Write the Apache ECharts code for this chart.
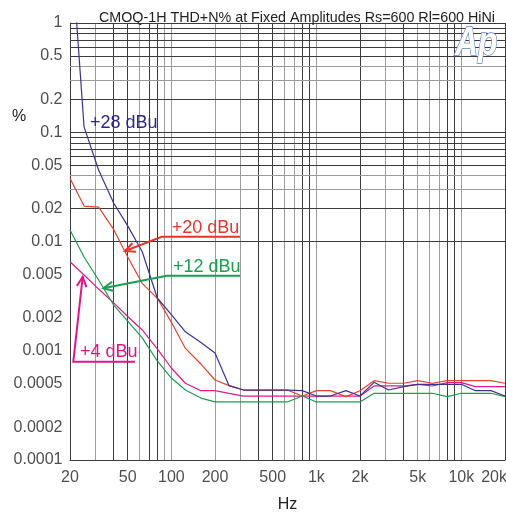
<!DOCTYPE html>
<html><head><meta charset="utf-8">
<script src="https://cdn.jsdelivr.net/npm/echarts@6/dist/echarts.min.js"></script>
<style>html,body{margin:0;padding:0;background:#fff}#c{width:506px;height:512px}</style>
</head><body><div id="c"></div>
<script>
const freqs = [20,25,31.5,40,50,63,80,100,125,160,200,250,315,400,500,630,800,1000,1250,1600,2000,2500,3150,4000,5000,6300,8000,10000,12500,16000,20000];
const thd28 = [7.3,0.112,0.0451,0.0225,0.0139,0.00806,0.00304,0.00214,0.00149,0.00119,0.000954,0.000479,0.000437,0.000437,0.000437,0.000437,0.000431,0.000385,0.000385,0.000431,0.000385,0.000514,0.000437,0.000469,0.000493,0.000493,0.000493,0.000493,0.000431,0.000431,0.000385];
const thd20 = [0.0379,0.0211,0.0206,0.0129,0.00721,0.00414,0.00302,0.00183,0.00105,0.000756,0.00054,0.000479,0.000437,0.000437,0.000437,0.000437,0.000385,0.000431,0.000431,0.00038,0.000431,0.000532,0.000504,0.000504,0.000532,0.000504,0.000532,0.000532,0.000532,0.000532,0.000504];
const thd12 = [0.01274,0.00721,0.00444,0.00262,0.00187,0.00131,0.000806,0.000563,0.000437,0.000369,0.00034,0.00034,0.00034,0.00034,0.00034,0.00034,0.000385,0.00034,0.00034,0.00034,0.00034,0.000408,0.000408,0.000408,0.000408,0.000408,0.00038,0.000408,0.000408,0.000408,0.00038];
const thd4 = [0.00653,0.00494,0.00367,0.00274,0.00206,0.00155,0.00104,0.000695,0.000504,0.000431,0.000431,0.000407,0.000385,0.000385,0.000385,0.000385,0.000385,0.000385,0.000385,0.000385,0.000385,0.000476,0.000476,0.000476,0.000493,0.000476,0.00051,0.00051,0.000469,0.000469,0.000469];
const seriesNames = ['+28 dBu','+20 dBu','+12 dBu','+4 dBu'];
const xTickValues = [20,50,100,200,500,1000,2000,5000,10000,20000];
const xTickLabels = ['20','50','100','200','500','1k','2k','5k','10k','20k'];
const yTickValues = [1,0.5,0.2,0.1,0.05,0.02,0.01,0.005,0.002,0.001,0.0005,0.0002,0.0001];
const yTickLabels = ['1','0.5','0.2','0.1','0.05','0.02','0.01','0.005','0.002','0.001','0.0005','0.0002','0.0001'];
const xGridDark = [40,50,70,80,400,500,800,900,2000,4000,8000,9000,20000];
const xGridGray = [30,60,90,100,200,300,600,700,1000,3000,5000,6000,7000,10000];
const yGridDark = [1,0.9,0.8,0.7,0.6,0.5,0.2,0.1,0.09,0.08,0.07,0.06,0.05,0.02,0.01,0.009,0.008,0.007,0.006,0.005,0.002,0.001,0.0009,0.0008,0.0007,0.0006,0.0005,0.0002];
const yGridGray = [0.4,0.3,0.04,0.03,0.004,0.003,0.0004,0.0003];

const DARK = '#3c3c3c', GRAY = '#9c9c9c';
const FONT = "'Liberation Sans', Arial, sans-serif";
const colors = ['#3d3294','#e8432c','#1b9e4f','#e0198c'];
const textColors = ['#2b2885','#e8352a','#17a050','#e0158a'];

const pair = arr => freqs.map((f,i)=>[f,arr[i]]);

const gridLines = [].concat(
  xGridDark.map(v=>({xAxis:v, lineStyle:{color:DARK}})),
  xGridGray.map(v=>({xAxis:v, lineStyle:{color:GRAY}})),
  yGridGray.map(v=>({yAxis:v, lineStyle:{color:GRAY}})),
  yGridDark.map(v=>({yAxis:v, lineStyle:{color:DARK}}))
);

function arrowHead(tip, from, len, ang){
  const dx = from[0]-tip[0], dy = from[1]-tip[1];
  const L = Math.hypot(dx,dy); const ux=dx/L, uy=dy/L;
  const r = a => [tip[0]+len*(ux*Math.cos(a)-uy*Math.sin(a)), tip[1]+len*(ux*Math.sin(a)+uy*Math.cos(a))];
  return [r(ang), tip, r(-ang)];
}
function annot(color, pts, text, tx, ty){
  const tip = pts[pts.length-1], prev = pts[pts.length-2];
  return [
    {type:'polyline', shape:{points:pts}, style:{stroke:color, lineWidth:2, fill:null}, z:100},
    {type:'polyline', shape:{points:arrowHead(tip, prev, 11, 0.45)}, style:{stroke:color, lineWidth:2, fill:null}, z:100},
    {type:'text', style:{x:tx, y:ty, text:text, fill:color, font:"18px "+FONT, textVerticalAlign:'middle'}, z:100}
  ];
}

const chart = echarts.init(document.getElementById('c'), null, {renderer:'canvas'});
chart.setOption({
  animation:false,
  backgroundColor:'#fff',
  title:{text:'CMOQ-1H THD+N% at Fixed Amplitudes Rs=600 Rl=600 HiNi', left:292, top:6, textAlign:'center',
    textStyle:{fontFamily:FONT, fontSize:14.3, fontWeight:'normal', color:'#222'}},
  grid:{left:70, right:1, top:23, bottom:52, containLabel:false, outerBoundsMode:'none'},
  xAxis:{type:'log', logBase:10, min:20, max:20000, axisLabel:{show:false}, axisTick:{show:false}, splitLine:{show:false},
    axisLine:{show:true, lineStyle:{color:DARK, width:1}},
    name:'Hz', nameLocation:'middle', nameGap:37, nameTextStyle:{fontFamily:FONT, fontSize:16, color:'#222'}},
  yAxis:{type:'log', logBase:10, min:0.0001, max:1, axisLabel:{show:false}, axisTick:{show:false}, splitLine:{show:false},
    axisLine:{show:true, lineStyle:{color:DARK, width:1}}},
  series:[
    {type:'line', data:[], silent:true, markLine:{silent:true, symbol:['none','none'], label:{show:false},
      lineStyle:{type:'solid', width:1}, data:gridLines, animation:false}},
    ...[thd28,thd20,thd12,thd4].map((d,i)=>({type:'line', name:seriesNames[i], data:pair(d), showSymbol:false, symbol:'none',
      lineStyle:{color:colors[i], width:1.2}, itemStyle:{color:colors[i]}, z:10+(3-i), clip:true})),
    {type:'scatter', silent:true, clip:false, symbolSize:1, itemStyle:{color:'rgba(0,0,0,0)'},
      data:yTickValues.map((v,i)=>({value:[20,v], label:{formatter:yTickLabels[i]}})),
      label:{show:true, position:'left', distance:7, fontFamily:FONT, fontSize:16, color:'#222'}},
    {type:'scatter', silent:true, clip:false, symbolSize:1, itemStyle:{color:'rgba(0,0,0,0)'},
      data:xTickValues.map((v,i)=>({value:[v,0.0001], label: i===xTickValues.length-1 ? {formatter:xTickLabels[i], align:'right', offset:[2,0]} : {formatter:xTickLabels[i]}})),
      label:{show:true, position:'bottom', distance:9, fontFamily:FONT, fontSize:16, color:'#222'}}
  ],
  graphic:[
    {type:'text', style:{x:19, y:117, text:'%', font:"16px "+FONT, fill:'#222', textAlign:'center', textVerticalAlign:'middle'}},
    {type:'text', x:455, y:44, scaleX:0.8, style:{x:0, y:0, text:'Ap', font:"italic bold 40px "+FONT, fill:'#fff', stroke:'#5b80d2', lineWidth:1.5, textVerticalAlign:'middle'}, z:50},
    {type:'text', style:{x:90, y:123, text:seriesNames[0], fill:textColors[0], font:"18px "+FONT, textVerticalAlign:'middle'}, z:100},
    ...annot(textColors[1], [[240,236.7],[161.7,236.7],[125,251]], seriesNames[1], 171.7, 228),
    ...annot(textColors[2], [[240,275.7],[166.7,275.7],[103.3,288.3]], seriesNames[2], 173, 267),
    ...annot(textColors[3], [[135,361.7],[73.3,361.7],[82.7,276.7]], seriesNames[3], 80, 352)
  ]
});
</script></body></html>
